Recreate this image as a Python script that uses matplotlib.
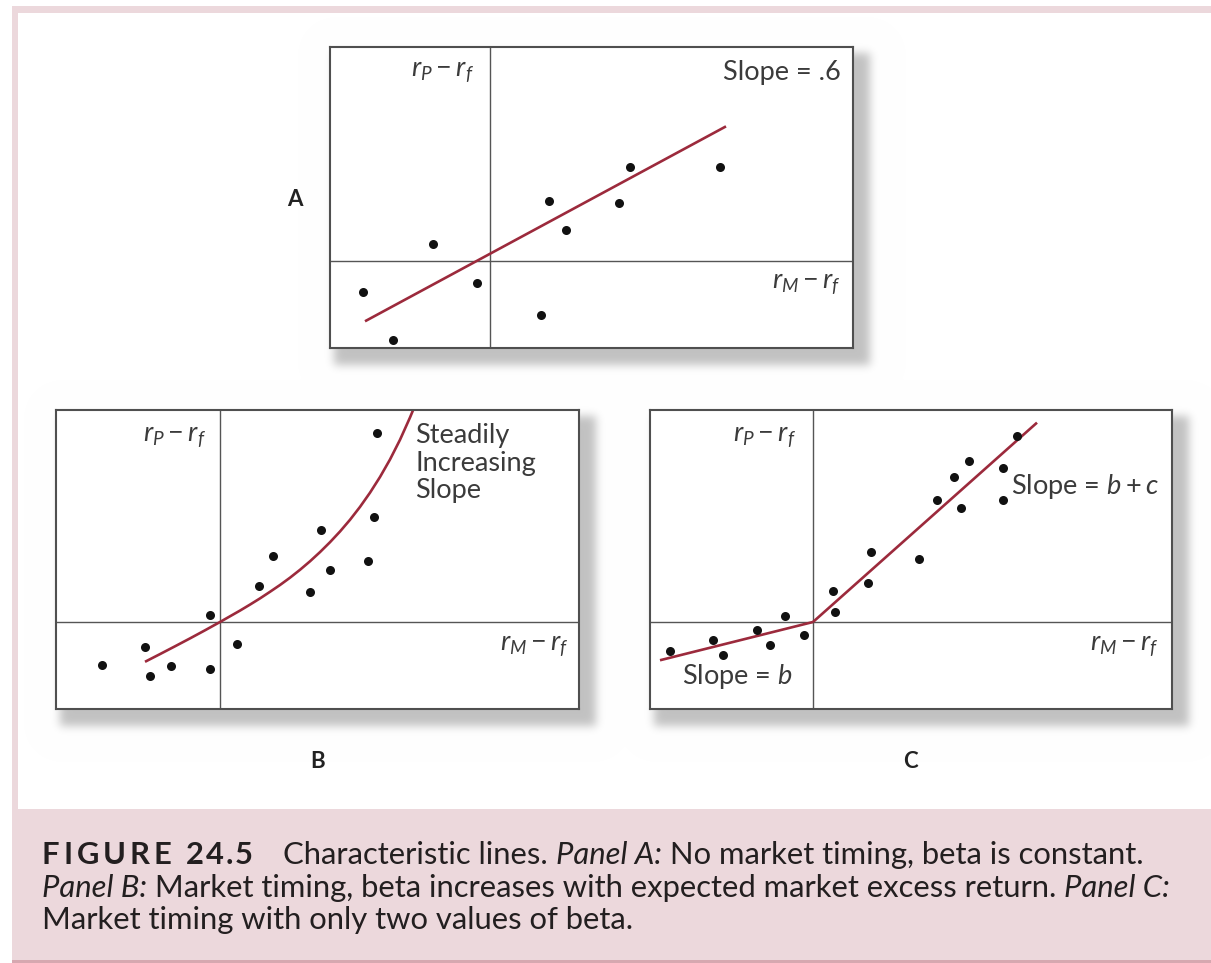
import numpy as np
import matplotlib
matplotlib.use('Agg')
import matplotlib.pyplot as plt

W, H = 1211, 963

# Panel A: no market timing (x, y are excess returns; origin at the axis crossing)
a_x = [-1.27, -0.97, -0.57, -0.13, 0.51, 0.59, 0.76, 1.29, 1.40, 2.30]
a_y = [-0.34, -0.88, 0.19, -0.25, -0.60, 0.67, 0.34, 0.64, 1.04, 1.04]
a_slope = 0.6
a_alpha = 0.08
a_line_x = [-1.25, 2.36]

# Panel B: beta rises steadily with the market excess return
b_x = [-1.18, -0.75, -0.70, -0.49, -0.10, -0.10, 0.17, 0.39, 0.53, 0.90,
       1.01, 1.10, 1.48, 1.54, 1.57]
b_y = [-0.43, -0.25, -0.54, -0.44, -0.47, 0.07, -0.22, 0.36, 0.66, 0.30,
       0.92, 0.52, 0.61, 1.05, 1.89]
b_curve_x = [-0.75, -0.60, -0.45, -0.30, -0.15, 0.00, 0.10, 0.20, 0.30, 0.40,
             0.50, 0.60, 0.70, 0.80, 0.90, 1.00, 1.10, 1.20, 1.30, 1.40,
             1.50, 1.60, 1.70, 1.80, 1.90, 1.93]
b_curve_y = [-0.398, -0.321, -0.243, -0.164, -0.083, 0.000, 0.057, 0.114,
             0.174, 0.236, 0.302, 0.370, 0.443, 0.522, 0.607, 0.699, 0.798,
             0.905, 1.022, 1.151, 1.293, 1.450, 1.625, 1.822, 2.045, 2.117]

# Panel C: two betas, b in down markets and b + c in up markets
c_x = [-1.43, -1.00, -0.90, -0.56, -0.43, -0.28, -0.09, 0.20, 0.22, 0.55,
       0.58, 1.06, 1.24, 1.41, 1.48, 1.56, 1.90, 1.90, 2.04]
c_y = [-0.29, -0.18, -0.33, -0.08, -0.23, 0.06, -0.13, 0.31, 0.10, 0.39,
       0.70, 0.63, 1.22, 1.45, 1.14, 1.61, 1.54, 1.22, 1.86]
c_b = 0.25
c_c = 0.64
c_low_x = [-1.53, 0.0]
c_high_x = [0.0, 2.24]

plt.rcParams['font.family'] = ['Lato', 'DejaVu Sans']
plt.rcParams['mathtext.fontset'] = 'custom'
plt.rcParams['mathtext.rm'] = 'Lato'
plt.rcParams['mathtext.it'] = 'Lato:italic'
plt.rcParams['mathtext.bf'] = 'Lato:bold'

RED = '#9c2a3c'
INK = '#3b3b3b'
PINK = (236 / 255, 216 / 255, 220 / 255)
PINK_DARK = (214 / 255, 168 / 255, 176 / 255)

fig = plt.figure(figsize=(W / 100, H / 100), dpi=100)

boxes = {'A': (330, 47, 853, 348), 'B': (56, 410, 579, 709), 'C': (650, 410, 1172, 709)}

# background: white page, pink frame and caption band, soft drop shadows
bg = np.ones((H, W, 3))
mask = np.zeros((H, W))
for l, t, r, b in boxes.values():
    mask[t + 6:b + 17, l + 4:r + 17] = 1.0


def gauss_matrix(n, s):
    i = np.arange(n)
    g = np.exp(-(i[:, None] - i[None, :]) ** 2 / (2 * s * s))
    return g / g.sum(axis=1, keepdims=True)


mask = gauss_matrix(H, 4.5) @ mask @ gauss_matrix(W, 4.5).T
bg *= (1 - 0.24 * mask)[:, :, None]
bg[6:13, 12:] = PINK
bg[6:, 12:18] = PINK
bg[809:960, 12:] = PINK
bg[960:963, 12:] = PINK_DARK
fig.figimage(bg, 0, 0, origin='upper', zorder=-5)


def panel(key, xlim, ylim):
    l, t, r, b = boxes[key]
    ax = fig.add_axes([l / W, 1 - b / H, (r - l) / W, (b - t) / H])
    ax.set_xlim(*xlim)
    ax.set_ylim(*ylim)
    ax.set_xticks([])
    ax.set_yticks([])
    ax.set_facecolor('white')
    for sp in ax.spines.values():
        sp.set_color('#4f4f4f')
        sp.set_linewidth(1.5)
    ax.axhline(0, color='#555555', lw=1.0, zorder=1)
    ax.axvline(0, color='#555555', lw=1.0, zorder=1)
    return ax


def dots(ax, xs, ys):
    ax.plot(xs, ys, 'o', color='#111111', ms=6.5, mec='none', zorder=3)


lab = dict(color=INK, fontsize=19.5)

# Panel A
axA = panel('A', (-1.60, 3.63), (-0.967, 2.378))
dots(axA, a_x, a_y)
a_line_y = [a_alpha + a_slope * x for x in a_line_x]
axA.plot(a_line_x, a_line_y, color=RED, lw=1.9, solid_capstyle='butt', zorder=2)
axA.text(-0.16, 2.10, r'$r_P - r_f$', ha='right', va='center', **lab)
axA.text(3.51, 2.10, 'Slope = .6', ha='right', va='center', **lab)
axA.text(3.51, -0.26, r'$r_M - r_f$', ha='right', va='center', **lab)

# Panel B
axB = panel('B', (-1.64, 3.59), (-0.87, 2.12))
dots(axB, b_x, b_y)
axB.plot(b_curve_x, b_curve_y, color=RED, lw=1.9, solid_capstyle='butt',
         solid_joinstyle='round', zorder=2)
axB.text(-0.14, 1.85, r'$r_P - r_f$', ha='right', va='center', **lab)
axB.text(3.49, -0.24, r'$r_M - r_f$', ha='right', va='center', **lab)
axB.text(1.95, 1.59, 'Steadily\nIncreasing\nSlope', ha='left', va='center',
         linespacing=1.14, **lab)

# Panel C
axC = panel('C', (-1.63, 3.59), (-0.87, 2.12))
dots(axC, c_x, c_y)
axC.plot(c_low_x, [c_b * x for x in c_low_x], color=RED, lw=1.9,
         solid_capstyle='butt', zorder=2)
axC.plot(c_high_x, [(c_b + c_c) * x for x in c_high_x], color=RED, lw=1.9,
         solid_capstyle='butt', zorder=2)
axC.text(-0.17, 1.85, r'$r_P - r_f$', ha='right', va='center', **lab)
axC.text(3.46, -0.24, r'$r_M - r_f$', ha='right', va='center', **lab)
axC.text(-1.31, -0.54, r'Slope = $b$', ha='left', va='center', **lab)
axC.text(1.98, 1.36, r'Slope = $b + c$', ha='left', va='center', **lab)

# panel letters
for letter, (px, py) in {'A': (295, 200), 'B': (318, 762), 'C': (910, 762)}.items():
    fig.text(px / W, 1 - py / H, letter, ha='center', va='center',
             fontsize=16, fontweight='bold', color='#222222')

# caption, laid out run by run
renderer = fig.canvas.get_renderer()
CAP = dict(fontsize=22.3, color='#231f20')


def run(x, y, s, track=0, **kw):
    opts = dict(CAP)
    opts.update(kw)
    if track:
        for ch in s:
            t = fig.text(x / W, 1 - y / H, ch, ha='left', va='baseline', **opts)
            x += t.get_window_extent(renderer).width + track
        return x - track
    t = fig.text(x / W, 1 - y / H, s, ha='left', va='baseline', **opts)
    return x + t.get_window_extent(renderer).width


y1, y2, y3 = 864, 897, 929
x = run(42, y1, 'FIGURE', track=4, fontweight='bold')
x = run(x + 14, y1, '24.5', track=2, fontweight='bold')
x = run(x + 30, y1, 'Characteristic lines. ')
x = run(x, y1, 'Panel A:', style='italic')
run(x, y1, ' No market timing, beta is constant.')

x = run(42, y2, 'Panel B:', style='italic')
x = run(x, y2, ' Market timing, beta increases with expected market excess return. ')
run(x, y2, 'Panel C:', style='italic')

run(42, y3, 'Market timing with only two values of beta.')

fig.savefig('out.png', dpi=100)
